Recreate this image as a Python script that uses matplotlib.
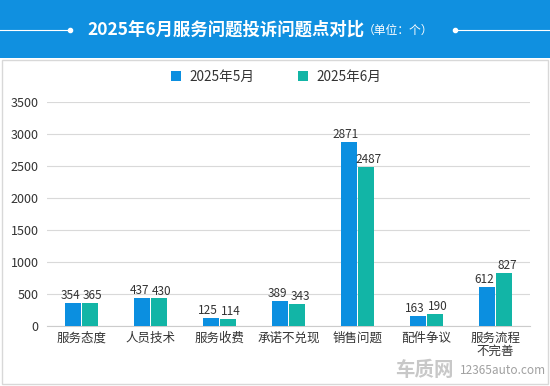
import matplotlib.pyplot as plt
import matplotlib.patches as mpatches
import numpy as np

plt.rcParams['font.family'] = ['Noto Sans CJK SC', 'DejaVu Sans']

categories = ['服务态度', '人员技术', '服务收费', '承诺不兑现', '销售问题', '配件争议', '服务流程\n不完善']
may_vals = [354, 437, 125, 389, 2871, 163, 612]
jun_vals = [365, 430, 114, 343, 2487, 190, 827]
series_names = ['2025年5月', '2025年6月']
yticks = [0, 500, 1000, 1500, 2000, 2500, 3000, 3500]

blue = '#0b8fe0'
teal = '#12b5a6'
header = '#1090e0'

fig = plt.figure(figsize=(5.5, 3.86), dpi=100)
fig.patch.set_facecolor('white')

# header band
fig.patches.append(mpatches.Rectangle((0, 1 - 58/386), 1, 58/386, transform=fig.transFigure,
                                      facecolor=header, edgecolor='none', zorder=-2))
# white panel with grey border
fig.patches.append(mpatches.Rectangle((2/550, 2/386), 546/550, (386 - 62)/386, transform=fig.transFigure,
                                      facecolor='white', edgecolor='#d8d8d8', lw=1, zorder=-2))
ty = 1 - 30/386
fig.lines.append(plt.Line2D([0, 70/550], [ty, ty], transform=fig.transFigure, color='white', lw=0.8))
fig.lines.append(plt.Line2D([455/550, 1], [ty, ty], transform=fig.transFigure, color='white', lw=0.8))
fig.lines.append(plt.Line2D([70/550, 455/550], [ty, ty], transform=fig.transFigure, color='white',
                            lw=0, marker='o', ms=3))
fig.text(87/550, ty, '2025年6月服务问题投诉问题点对比', color='white', fontsize=12.5,
         fontweight='bold', ha='left', va='center')
fig.text(363/550, ty - 0.002, '（单位：个）', color='white', fontsize=8.5, ha='left', va='center')

ax = fig.add_axes([47/550, 1 - 326/386, 483/550, 224/386])
ax.set_zorder(1)
ax.patch.set_alpha(0)
x = np.arange(len(categories))
w = 0.235
b1 = ax.bar(x - w/2 - 0.008, may_vals, w, color=blue, label=series_names[0], zorder=3)
b2 = ax.bar(x + w/2 + 0.008, jun_vals, w, color=teal, label=series_names[1], zorder=3)
for bars, shift in ((b1, -0.04), (b2, 0.04)):
    for r in bars:
        ax.text(r.get_x() + r.get_width()/2 + shift, r.get_height() + 15, str(int(r.get_height())),
                ha='center', va='bottom', fontsize=8.5, color='#333333')

ax.set_ylim(0, 3500)
ax.set_xlim(-0.5, len(categories) - 0.5)
ax.set_yticks(yticks)
ax.set_xticks(x)
ax.set_xticklabels(categories, fontsize=9, color='#333333', linespacing=1.05)
ax.tick_params(axis='y', labelsize=9, colors='#333333', length=0, pad=6)
ax.tick_params(axis='x', length=0, pad=4)
ax.yaxis.grid(True, color='#d9d9d9', lw=0.8, zorder=0)
for s in ['top', 'right', 'left']:
    ax.spines[s].set_visible(False)
ax.spines['bottom'].set_color('#cccccc')

ax.legend(loc='lower center', bbox_to_anchor=(0.474, 1.025), ncol=2, frameon=False, fontsize=9.8,
          handlelength=0.75, handleheight=0.75, columnspacing=3.2, handletextpad=0.6,
          labelcolor='#333333')

fig.text(395/550, 0.04, '车质网', fontsize=14, color='#c8c8c8', fontweight='bold', ha='left', va='center')
fig.text(460/550, 0.04, '12365auto.com', fontsize=8.5, color='#a0a0a0', ha='left', va='center')

fig.savefig('out.png', dpi=100)
